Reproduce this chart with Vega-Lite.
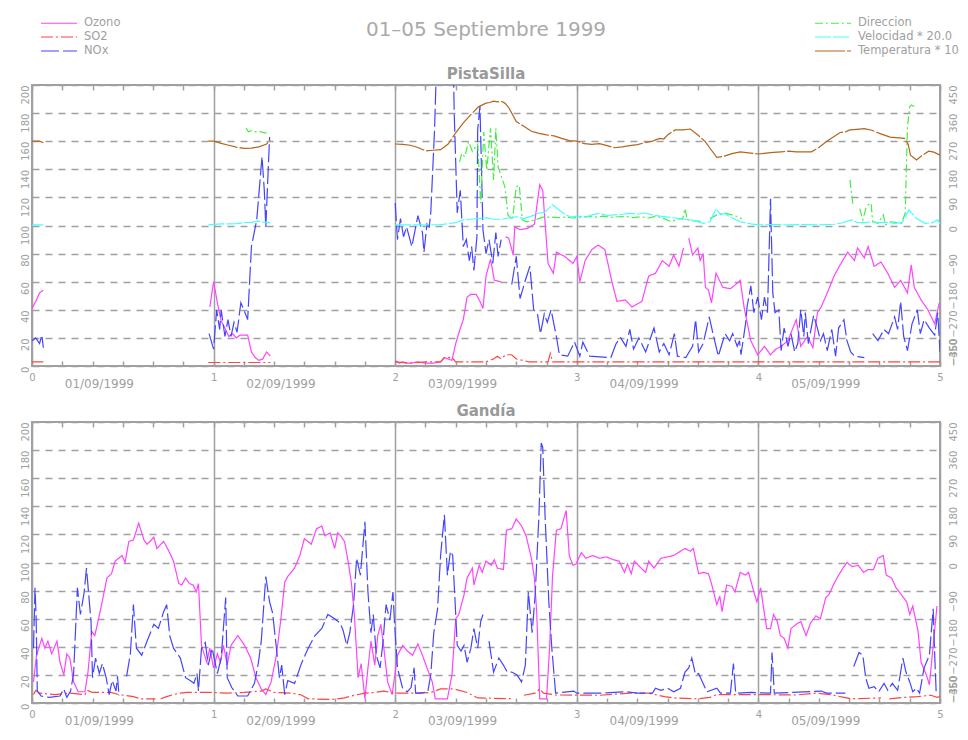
{
"$schema":"https://vega.github.io/schema/vega-lite/v6.json",
"background":"white",
"padding":{"left":18,"top":16,"right":0,"bottom":5},
"title":{"text":"01–05 Septiembre 1999","fontSize":20,"fontWeight":"normal","color":"#aaaaaa","font":"DejaVu Sans","anchor":"middle","frame":"group","offset":0,"dy":24},
"bounds":"flush",
"spacing":56,
"datasets":{
"pO":[{"h":0,"v":41},{"h":0.5,"v":46},{"h":1,"v":52},{"h":1.5,"v":54},{"h":12,"v":null},{"h":23.5,"v":42},{"h":24,"v":60},{"h":24.5,"v":45},{"h":25,"v":32},{"h":25.5,"v":27},{"h":26,"v":21},{"h":26.5,"v":23},{"h":27,"v":20},{"h":27.5,"v":22},{"h":28,"v":22},{"h":28.5,"v":22},{"h":29,"v":10},{"h":29.5,"v":6},{"h":30,"v":4},{"h":30.5,"v":5},{"h":31,"v":10},{"h":31.5,"v":7},{"h":40,"v":null},{"h":48,"v":4},{"h":48.5,"v":2},{"h":49,"v":3},{"h":49.5,"v":2},{"h":50,"v":2},{"h":51,"v":3},{"h":52,"v":2},{"h":53,"v":2},{"h":54,"v":3},{"h":54.5,"v":6},{"h":55,"v":5},{"h":55.5,"v":4},{"h":56,"v":16},{"h":56.5,"v":25},{"h":57,"v":33},{"h":57.5,"v":49},{"h":58,"v":51},{"h":58.7,"v":51},{"h":59.2,"v":46},{"h":59.6,"v":41},{"h":60,"v":64},{"h":60.6,"v":76},{"h":61.1,"v":61},{"h":62,"v":60},{"h":62.3,"v":null},{"h":62.6,"v":92},{"h":63,"v":91},{"h":63.6,"v":79},{"h":63.8,"v":99},{"h":64.5,"v":97},{"h":65.5,"v":98},{"h":66.4,"v":101},{"h":67.1,"v":129},{"h":67.5,"v":125},{"h":68.2,"v":73},{"h":68.9,"v":66},{"h":69.3,"v":81},{"h":70.4,"v":78},{"h":71.5,"v":73},{"h":72,"v":78},{"h":72.4,"v":60},{"h":73.1,"v":75},{"h":74,"v":83},{"h":74.8,"v":86},{"h":75.7,"v":83},{"h":76.6,"v":61},{"h":77.3,"v":46},{"h":78.4,"v":47},{"h":79.3,"v":42},{"h":80.6,"v":46},{"h":81.5,"v":64},{"h":82.4,"v":66},{"h":83.3,"v":75},{"h":84.2,"v":71},{"h":84.8,"v":79},{"h":85.5,"v":71},{"h":86.1,"v":84},{"h":86.4,"v":null},{"h":86.8,"v":91},{"h":87.3,"v":79},{"h":88,"v":84},{"h":88.3,"v":75},{"h":88.7,"v":80},{"h":89,"v":56},{"h":89.4,"v":54},{"h":89.8,"v":45},{"h":90.4,"v":66},{"h":91.3,"v":56},{"h":92.3,"v":55},{"h":93,"v":58},{"h":93.6,"v":61},{"h":94.1,"v":42},{"h":95,"v":18},{"h":95.9,"v":8},{"h":96.8,"v":14},{"h":97.6,"v":8},{"h":98.3,"v":12},{"h":99,"v":14},{"h":99.9,"v":18},{"h":101,"v":33},{"h":101.6,"v":14},{"h":102.5,"v":21},{"h":103.2,"v":13},{"h":103.8,"v":38},{"h":104.3,"v":42},{"h":105.1,"v":52},{"h":106,"v":64},{"h":106.7,"v":71},{"h":107.8,"v":81},{"h":108.7,"v":75},{"h":109.1,"v":84},{"h":110,"v":77},{"h":110.5,"v":85},{"h":111.3,"v":71},{"h":112.2,"v":74},{"h":113.1,"v":66},{"h":114,"v":56},{"h":114.8,"v":61},{"h":115.7,"v":52},{"h":116.2,"v":72},{"h":116.6,"v":56},{"h":117.5,"v":47},{"h":118.4,"v":40},{"h":119.3,"v":30},{"h":119.9,"v":45}],
"pS":[{"h":0,"v":3},{"h":1.5,"v":3},{"h":12,"v":null},{"h":23.3,"v":2.5},{"h":31.5,"v":2.5},{"h":40,"v":null},{"h":48,"v":3},{"h":50,"v":2},{"h":52,"v":3},{"h":54,"v":3},{"h":54.5,"v":6},{"h":55.5,"v":6},{"h":56,"v":3},{"h":60,"v":3},{"h":61,"v":5},{"h":61.5,"v":7},{"h":62,"v":5},{"h":62.6,"v":8},{"h":63.4,"v":8},{"h":64,"v":5},{"h":65.7,"v":3},{"h":68.2,"v":3},{"h":68.5,"v":9},{"h":68.8,"v":3},{"h":110,"v":3},{"h":110.2,"v":null},{"h":110.5,"v":3},{"h":120,"v":3}],
"pN":[{"h":0,"v":18},{"h":0.5,"v":20},{"h":1,"v":16},{"h":1.3,"v":22},{"h":1.5,"v":13},{"h":12,"v":null},{"h":23.4,"v":23},{"h":24,"v":12},{"h":24.4,"v":40},{"h":24.8,"v":26},{"h":25,"v":40},{"h":25.5,"v":21},{"h":25.9,"v":33},{"h":26.3,"v":21},{"h":26.7,"v":31},{"h":27.1,"v":24},{"h":27.6,"v":45},{"h":28,"v":40},{"h":28.5,"v":33},{"h":29,"v":85},{"h":29.7,"v":104},{"h":30.4,"v":149},{"h":30.7,"v":125},{"h":30.9,"v":99},{"h":31.4,"v":163},{"h":40,"v":null},{"h":48,"v":116},{"h":48.3,"v":90},{"h":48.7,"v":105},{"h":49.1,"v":92},{"h":49.5,"v":99},{"h":50.2,"v":85},{"h":51,"v":107},{"h":51.6,"v":95},{"h":51.8,"v":81},{"h":52.2,"v":101},{"h":52.5,"v":99},{"h":52.7,"v":109},{"h":53.2,"v":168},{"h":53.6,"v":240},{"h":55.6,"v":240},{"h":55.8,"v":180},{"h":56.2,"v":109},{"h":56.6,"v":125},{"h":57,"v":85},{"h":57.4,"v":90},{"h":57.8,"v":75},{"h":58.1,"v":85},{"h":58.4,"v":68},{"h":58.8,"v":92},{"h":58.9,"v":168},{"h":59.2,"v":185},{"h":59.6,"v":97},{"h":60,"v":80},{"h":60.4,"v":90},{"h":60.9,"v":73},{"h":61.3,"v":95},{"h":61.6,"v":78},{"h":62,"v":90},{"h":62.3,"v":null},{"h":63.4,"v":58},{"h":64,"v":78},{"h":64.5,"v":48},{"h":65.2,"v":61},{"h":65.8,"v":71},{"h":66.3,"v":40},{"h":66.8,"v":37},{"h":67.2,"v":23},{"h":67.7,"v":37},{"h":68.1,"v":31},{"h":68.6,"v":40},{"h":69.3,"v":21},{"h":69.7,"v":8},{"h":70.8,"v":7},{"h":71.7,"v":17},{"h":72.4,"v":7},{"h":72.8,"v":17},{"h":73.7,"v":7},{"h":76.5,"v":6},{"h":77.2,"v":16},{"h":77.8,"v":20},{"h":78.5,"v":14},{"h":79,"v":26},{"h":79.5,"v":12},{"h":80.2,"v":20},{"h":81.1,"v":10},{"h":82.2,"v":27},{"h":82.9,"v":10},{"h":83.5,"v":16},{"h":84.2,"v":8},{"h":84.9,"v":23},{"h":85.3,"v":7},{"h":86.4,"v":6},{"h":87.3,"v":14},{"h":87.7,"v":33},{"h":88.1,"v":10},{"h":88.7,"v":16},{"h":89.5,"v":35},{"h":90,"v":23},{"h":90.7,"v":7},{"h":91.6,"v":23},{"h":92.2,"v":18},{"h":92.6,"v":23},{"h":93.2,"v":14},{"h":93.5,"v":18},{"h":93.7,"v":8},{"h":94.3,"v":30},{"h":94.5,"v":42},{"h":95,"v":57},{"h":95.4,"v":38},{"h":95.9,"v":49},{"h":96.4,"v":33},{"h":96.8,"v":49},{"h":97.2,"v":38},{"h":97.6,"v":119},{"h":97.9,"v":52},{"h":98.2,"v":38},{"h":98.7,"v":40},{"h":99,"v":11},{"h":99.4,"v":27},{"h":99.9,"v":14},{"h":100.3,"v":23},{"h":100.8,"v":10},{"h":101.2,"v":16},{"h":101.6,"v":40},{"h":102,"v":21},{"h":102.2,"v":38},{"h":102.6,"v":16},{"h":103.3,"v":36},{"h":103.8,"v":27},{"h":104.2,"v":18},{"h":104.6,"v":23},{"h":105.1,"v":11},{"h":105.7,"v":26},{"h":106.2,"v":7},{"h":106.6,"v":27},{"h":107.3,"v":33},{"h":107.7,"v":18},{"h":108.2,"v":10},{"h":108.7,"v":7},{"h":110,"v":6},{"h":110.5,"v":null},{"h":111.1,"v":23},{"h":111.8,"v":18},{"h":112.6,"v":26},{"h":113.2,"v":23},{"h":114,"v":35},{"h":114.4,"v":26},{"h":114.8,"v":46},{"h":115.2,"v":21},{"h":115.7,"v":11},{"h":116.3,"v":30},{"h":117,"v":40},{"h":117.4,"v":23},{"h":117.9,"v":33},{"h":118.6,"v":27},{"h":119.3,"v":22},{"h":119.7,"v":38},{"h":120,"v":10}],
"pD":[{"h":28.3,"v":312},{"h":28.6,"v":300},{"h":29,"v":304},{"h":29.5,"v":300},{"h":30,"v":302},{"h":30.5,"v":298},{"h":31,"v":296},{"h":40,"v":null},{"h":56.5,"v":204},{"h":56.8,"v":231},{"h":57.2,"v":220},{"h":57.7,"v":269},{"h":58.2,"v":237},{"h":58.9,"v":261},{"h":59.3,"v":71},{"h":59.7,"v":300},{"h":60.1,"v":178},{"h":60.6,"v":311},{"h":61,"v":146},{"h":61.3,"v":311},{"h":61.6,"v":188},{"h":62.5,"v":124},{"h":62.9,"v":34},{"h":63.5,"v":18},{"h":64,"v":124},{"h":64.4,"v":129},{"h":64.8,"v":18},{"h":65.4,"v":12},{"h":66.5,"v":18},{"h":67.5,"v":27},{"h":68.5,"v":27},{"h":69.5,"v":25},{"h":70.5,"v":27},{"h":71.5,"v":24},{"h":72.5,"v":27},{"h":73.5,"v":29},{"h":74.5,"v":27},{"h":75.5,"v":30},{"h":76.5,"v":26},{"h":77.5,"v":28},{"h":78.5,"v":29},{"h":79.5,"v":25},{"h":80.5,"v":28},{"h":81.5,"v":24},{"h":82.5,"v":30},{"h":83.5,"v":22},{"h":84.5,"v":12},{"h":85.2,"v":20},{"h":86,"v":22},{"h":86.3,"v":54},{"h":86.6,"v":18},{"h":87.5,"v":15},{"h":88.7,"v":12},{"h":89.2,"v":null},{"h":89.6,"v":22},{"h":90.5,"v":34},{"h":91.5,"v":40},{"h":92.5,"v":34},{"h":93.3,"v":28},{"h":93.8,"v":22},{"h":94,"v":null},{"h":108.1,"v":146},{"h":108.5,"v":66},{"h":108.7,"v":null},{"h":109.4,"v":54},{"h":109.8,"v":18},{"h":110.2,"v":54},{"h":110.5,"v":66},{"h":110.9,"v":71},{"h":111.1,"v":12},{"h":111.8,"v":7},{"h":112.5,"v":34},{"h":112.8,"v":2},{"h":113.5,"v":12},{"h":114.9,"v":7},{"h":115.4,"v":39},{"h":115.7,"v":316},{"h":116,"v":380},{"h":116.2,"v":386},{"h":116.6,"v":381}],
"pV":[{"h":0,"v":2},{"h":1.5,"v":2},{"h":12,"v":null},{"h":23.3,"v":2},{"h":25,"v":5},{"h":26,"v":5},{"h":27,"v":6},{"h":28,"v":9},{"h":29,"v":10},{"h":29.8,"v":14},{"h":30.5,"v":11},{"h":31.5,"v":9},{"h":40,"v":null},{"h":48,"v":2},{"h":50,"v":2},{"h":52,"v":2},{"h":54,"v":3},{"h":55,"v":6},{"h":56,"v":9},{"h":57,"v":18},{"h":58,"v":20},{"h":59,"v":22},{"h":60,"v":25},{"h":61,"v":20},{"h":62,"v":20},{"h":63,"v":24},{"h":64,"v":28},{"h":65,"v":22},{"h":66,"v":30},{"h":67,"v":40},{"h":67.7,"v":42},{"h":68.8,"v":66},{"h":70.1,"v":41},{"h":71.2,"v":27},{"h":72,"v":30},{"h":73.3,"v":27},{"h":74,"v":34},{"h":75,"v":39},{"h":76,"v":32},{"h":77,"v":34},{"h":78,"v":36},{"h":79,"v":39},{"h":80,"v":36},{"h":81,"v":40},{"h":82,"v":34},{"h":83,"v":30},{"h":84,"v":27},{"h":85,"v":24},{"h":86,"v":20},{"h":87,"v":19},{"h":88,"v":12},{"h":88.7,"v":7},{"h":89.6,"v":12},{"h":90.4,"v":54},{"h":91,"v":34},{"h":91.5,"v":39},{"h":92.3,"v":27},{"h":93.6,"v":12},{"h":95,"v":5},{"h":96,"v":2},{"h":98,"v":3},{"h":100,"v":2},{"h":102,"v":3},{"h":104,"v":2},{"h":106,"v":4},{"h":107,"v":8},{"h":108.3,"v":18},{"h":109,"v":10},{"h":110,"v":9},{"h":111,"v":12},{"h":112,"v":9},{"h":113,"v":10},{"h":114,"v":7},{"h":115,"v":9},{"h":115.9,"v":50},{"h":116.9,"v":22},{"h":118,"v":7},{"h":119,"v":9},{"h":119.7,"v":18},{"h":120,"v":5}],
"pT":[{"h":0,"v":270},{"h":1,"v":270},{"h":1.5,"v":265},{"h":12,"v":null},{"h":23.3,"v":270},{"h":24,"v":270},{"h":25,"v":263},{"h":26,"v":257},{"h":27,"v":251},{"h":28,"v":247},{"h":29,"v":248},{"h":30,"v":252},{"h":31,"v":261},{"h":31.5,"v":274},{"h":40,"v":null},{"h":48,"v":261},{"h":49,"v":260},{"h":50,"v":257},{"h":51,"v":250},{"h":52,"v":239},{"h":53,"v":241},{"h":54,"v":243},{"h":55,"v":261},{"h":56,"v":297},{"h":57,"v":329},{"h":58,"v":355},{"h":59,"v":380},{"h":60,"v":392},{"h":60.5,"v":394},{"h":61,"v":398},{"h":61.5,"v":396},{"h":62,"v":398},{"h":62.5,"v":392},{"h":63,"v":378},{"h":64,"v":333},{"h":65,"v":318},{"h":66,"v":302},{"h":67,"v":295},{"h":68,"v":290},{"h":69,"v":287},{"h":70,"v":279},{"h":71,"v":272},{"h":72,"v":270},{"h":73,"v":262},{"h":74,"v":260},{"h":75,"v":262},{"h":76,"v":256},{"h":77,"v":249},{"h":78,"v":252},{"h":79,"v":256},{"h":80,"v":259},{"h":81,"v":265},{"h":82,"v":270},{"h":82.5,"v":275},{"h":83,"v":279},{"h":83.5,"v":277},{"h":84,"v":290},{"h":85,"v":306},{"h":86,"v":306},{"h":87,"v":309},{"h":88,"v":290},{"h":89,"v":268},{"h":89.8,"v":241},{"h":90.5,"v":218},{"h":91.5,"v":222},{"h":92.5,"v":230},{"h":93.6,"v":236},{"h":95,"v":232},{"h":96,"v":229},{"h":97,"v":232},{"h":98,"v":234},{"h":99,"v":236},{"h":100,"v":238},{"h":101,"v":236},{"h":102,"v":236},{"h":103,"v":236},{"h":104,"v":250},{"h":105,"v":269},{"h":106,"v":285},{"h":106.8,"v":298},{"h":107.5,"v":300},{"h":108.1,"v":306},{"h":109,"v":308},{"h":110,"v":310},{"h":111,"v":305},{"h":112,"v":295},{"h":113.4,"v":283},{"h":115.3,"v":279},{"h":115.8,"v":260},{"h":116.1,"v":225},{"h":116.9,"v":210},{"h":117.5,"v":222},{"h":118.5,"v":238},{"h":119.2,"v":235},{"h":120,"v":225}],
"gO":[{"h":0.2,"v":15},{"h":0.6,"v":34},{"h":1.3,"v":46},{"h":1.7,"v":39},{"h":2.1,"v":44},{"h":2.6,"v":35},{"h":3.3,"v":44},{"h":3.7,"v":29},{"h":4.2,"v":20},{"h":4.6,"v":35},{"h":5,"v":32},{"h":5.5,"v":15},{"h":6.1,"v":8},{"h":7,"v":8},{"h":7.4,"v":22},{"h":7.9,"v":51},{"h":8.3,"v":48},{"h":8.8,"v":60},{"h":9.2,"v":70},{"h":9.9,"v":89},{"h":10.5,"v":92},{"h":11,"v":101},{"h":11.9,"v":105},{"h":12.3,"v":100},{"h":12.8,"v":115},{"h":13.4,"v":116},{"h":14.1,"v":128},{"h":14.8,"v":116},{"h":15.2,"v":113},{"h":15.6,"v":115},{"h":16.1,"v":118},{"h":16.5,"v":110},{"h":17.4,"v":115},{"h":18.1,"v":108},{"h":18.7,"v":101},{"h":19.4,"v":85},{"h":19.8,"v":84},{"h":20.3,"v":89},{"h":20.8,"v":85},{"h":21.3,"v":84},{"h":21.7,"v":79},{"h":22,"v":85},{"h":22.4,"v":41},{"h":23.1,"v":29},{"h":23.5,"v":39},{"h":24,"v":25},{"h":24.5,"v":35},{"h":24.9,"v":29},{"h":25.3,"v":41},{"h":25.8,"v":27},{"h":26.3,"v":41},{"h":27.2,"v":48},{"h":28.1,"v":41},{"h":28.9,"v":32},{"h":29.6,"v":18},{"h":30.3,"v":10},{"h":30.9,"v":6},{"h":31.6,"v":15},{"h":32.3,"v":34},{"h":32.9,"v":60},{"h":33.4,"v":86},{"h":33.8,"v":90},{"h":34.7,"v":96},{"h":35.4,"v":105},{"h":36,"v":117},{"h":36.9,"v":113},{"h":37.6,"v":124},{"h":38.3,"v":126},{"h":38.7,"v":119},{"h":39.4,"v":121},{"h":40,"v":110},{"h":40.4,"v":121},{"h":40.8,"v":119},{"h":41.3,"v":115},{"h":41.8,"v":100},{"h":42.2,"v":86},{"h":42.6,"v":63},{"h":43.1,"v":18},{"h":43.5,"v":28},{"h":44,"v":3},{"h":44.4,"v":25},{"h":44.8,"v":44},{"h":45.3,"v":27},{"h":45.7,"v":48},{"h":46.1,"v":56},{"h":46.5,"v":39},{"h":47,"v":15},{"h":47.6,"v":6},{"h":48.3,"v":34},{"h":49,"v":41},{"h":49.6,"v":37},{"h":50.3,"v":34},{"h":51,"v":42},{"h":51.6,"v":34},{"h":52.2,"v":25},{"h":52.9,"v":15},{"h":53.3,"v":3},{"h":54.9,"v":3},{"h":55.5,"v":20},{"h":56,"v":60},{"h":56.4,"v":63},{"h":57.1,"v":77},{"h":57.5,"v":89},{"h":58.2,"v":96},{"h":58.4,"v":84},{"h":59.1,"v":98},{"h":59.5,"v":93},{"h":60,"v":101},{"h":60.7,"v":98},{"h":61.1,"v":102},{"h":61.5,"v":96},{"h":62.3,"v":95},{"h":62.7,"v":123},{"h":63.4,"v":124},{"h":64,"v":131},{"h":64.7,"v":126},{"h":65.3,"v":119},{"h":66,"v":103},{"h":66.4,"v":89},{"h":66.7,"v":65},{"h":67.1,"v":3},{"h":68,"v":3},{"h":68.4,"v":39},{"h":68.8,"v":91},{"h":69.3,"v":123},{"h":69.9,"v":124},{"h":70.6,"v":137},{"h":71,"v":105},{"h":71.5,"v":98},{"h":71.9,"v":99},{"h":72.6,"v":107},{"h":73.2,"v":103},{"h":74.1,"v":105},{"h":75,"v":103},{"h":75.9,"v":104},{"h":76.8,"v":102},{"h":77.6,"v":101},{"h":78.3,"v":93},{"h":78.7,"v":99},{"h":79.2,"v":92},{"h":79.6,"v":101},{"h":80.5,"v":96},{"h":81.1,"v":93},{"h":81.5,"v":101},{"h":82.2,"v":96},{"h":83.1,"v":103},{"h":84,"v":104},{"h":84.8,"v":105},{"h":85.7,"v":108},{"h":86.3,"v":110},{"h":87,"v":108},{"h":87.4,"v":110},{"h":88.1,"v":92},{"h":88.7,"v":93},{"h":89.4,"v":92},{"h":89.8,"v":85},{"h":90.5,"v":70},{"h":90.9,"v":76},{"h":91.2,"v":65},{"h":91.8,"v":84},{"h":92.5,"v":83},{"h":92.9,"v":79},{"h":93.6,"v":93},{"h":94.3,"v":91},{"h":94.7,"v":93},{"h":95.4,"v":79},{"h":95.8,"v":72},{"h":96.3,"v":82},{"h":96.7,"v":67},{"h":97.1,"v":53},{"h":97.6,"v":53},{"h":98,"v":63},{"h":98.5,"v":58},{"h":98.9,"v":48},{"h":99.4,"v":46},{"h":99.9,"v":39},{"h":100.3,"v":53},{"h":101,"v":56},{"h":101.6,"v":58},{"h":102.3,"v":48},{"h":102.9,"v":57},{"h":103.6,"v":62},{"h":104.2,"v":60},{"h":104.9,"v":75},{"h":105.3,"v":77},{"h":106,"v":85},{"h":106.6,"v":91},{"h":107.3,"v":97},{"h":107.7,"v":100},{"h":108.4,"v":97},{"h":109.2,"v":98},{"h":109.9,"v":93},{"h":110.5,"v":95},{"h":111.2,"v":95},{"h":111.8,"v":103},{"h":112.5,"v":105},{"h":112.9,"v":91},{"h":113.6,"v":89},{"h":114.2,"v":82},{"h":114.9,"v":77},{"h":115.6,"v":72},{"h":116,"v":63},{"h":116.4,"v":69},{"h":117.1,"v":51},{"h":117.5,"v":29},{"h":118.2,"v":20},{"h":118.6,"v":13},{"h":119.1,"v":41},{"h":119.6,"v":69}],
"gS":[{"h":0.2,"v":6},{"h":0.5,"v":9},{"h":1,"v":7},{"h":3,"v":6},{"h":5,"v":7},{"h":7,"v":6},{"h":7.3,"v":9},{"h":8,"v":7.5},{"h":10.4,"v":7.5},{"h":11.5,"v":6},{"h":13.4,"v":4.5},{"h":14.3,"v":3},{"h":16.3,"v":3},{"h":16.6,"v":null},{"h":17,"v":3},{"h":17.8,"v":4.5},{"h":18.7,"v":6},{"h":19.6,"v":7},{"h":20.5,"v":7.5},{"h":24,"v":7.5},{"h":25.8,"v":7},{"h":28,"v":7.5},{"h":30.3,"v":8.5},{"h":30.9,"v":10},{"h":32,"v":7.5},{"h":34.3,"v":7},{"h":35.6,"v":5.7},{"h":36.5,"v":3},{"h":39.6,"v":2.5},{"h":41.3,"v":3.6},{"h":42.6,"v":5.5},{"h":44,"v":7},{"h":45.3,"v":7.5},{"h":46.5,"v":8.5},{"h":47.9,"v":7},{"h":50.5,"v":7},{"h":52.7,"v":7.5},{"h":54,"v":10},{"h":55.8,"v":10},{"h":57.5,"v":7.5},{"h":58.9,"v":3.6},{"h":63.7,"v":3},{"h":64,"v":null},{"h":65,"v":5.5},{"h":66.5,"v":7},{"h":67.1,"v":10},{"h":67.6,"v":7},{"h":69.2,"v":5.7},{"h":75,"v":5.5},{"h":79,"v":7},{"h":81.5,"v":7},{"h":83.6,"v":4.5},{"h":84.8,"v":3.6},{"h":87.9,"v":3},{"h":89.6,"v":4},{"h":90.5,"v":6},{"h":95.8,"v":6},{"h":101,"v":5.7},{"h":103.6,"v":7},{"h":105.5,"v":6},{"h":107.3,"v":4},{"h":108.2,"v":3},{"h":112.2,"v":3.6},{"h":112.5,"v":null},{"h":113.3,"v":3},{"h":115.3,"v":4},{"h":117,"v":4.5},{"h":118.8,"v":5.5},{"h":119.6,"v":4},{"h":120,"v":4.5}],
"gN":[{"h":0.2,"v":39},{"h":0.4,"v":82},{"h":0.55,"v":60},{"h":0.7,"v":8.5},{"h":1.2,"v":5},{"h":2.3,"v":4},{"h":3.7,"v":5},{"h":4.2,"v":10},{"h":4.6,"v":4},{"h":5.1,"v":8.5},{"h":5.5,"v":21},{"h":6,"v":82},{"h":6.4,"v":63},{"h":6.9,"v":79},{"h":7.2,"v":96},{"h":7.8,"v":58},{"h":8,"v":18},{"h":8.4,"v":32},{"h":8.9,"v":21},{"h":9.3,"v":28},{"h":9.8,"v":18},{"h":10.2,"v":6},{"h":10.6,"v":16},{"h":11.1,"v":8.5},{"h":11.3,"v":19},{"h":11.5,"v":5},{"h":12,"v":null},{"h":12.5,"v":19},{"h":13,"v":35},{"h":13.4,"v":70},{"h":13.8,"v":39},{"h":14.5,"v":34},{"h":15.2,"v":44},{"h":16.1,"v":56},{"h":16.7,"v":53},{"h":17.4,"v":65},{"h":17.8,"v":70},{"h":18.2,"v":48},{"h":18.7,"v":39},{"h":19.6,"v":32},{"h":20.3,"v":18},{"h":20.9,"v":16},{"h":21.4,"v":14},{"h":21.8,"v":21},{"h":22,"v":8.5},{"h":22.4,"v":39},{"h":22.9,"v":43},{"h":23.3,"v":27},{"h":23.8,"v":39},{"h":24.5,"v":21},{"h":25,"v":32},{"h":25.6,"v":75},{"h":25.8,"v":18},{"h":26.4,"v":11},{"h":27.2,"v":5},{"h":28.5,"v":5},{"h":29.4,"v":14},{"h":29.9,"v":28},{"h":30.3,"v":44},{"h":30.9,"v":90},{"h":31.4,"v":72},{"h":31.8,"v":64},{"h":32.3,"v":39},{"h":32.7,"v":18},{"h":33,"v":27},{"h":33.4,"v":6},{"h":33.8,"v":16},{"h":34.7,"v":14},{"h":35.6,"v":28},{"h":36.5,"v":39},{"h":37.4,"v":48},{"h":38.3,"v":53},{"h":39.1,"v":63},{"h":40,"v":60},{"h":40.7,"v":57},{"h":41.1,"v":52},{"h":41.6,"v":41},{"h":42,"v":50},{"h":42.5,"v":70},{"h":42.9,"v":103},{"h":43.4,"v":91},{"h":44,"v":129},{"h":44.4,"v":79},{"h":44.8,"v":50},{"h":45.1,"v":63},{"h":45.5,"v":34},{"h":46,"v":25},{"h":46.4,"v":44},{"h":46.6,"v":58},{"h":46.8,"v":70},{"h":47.3,"v":59},{"h":47.7,"v":79},{"h":47.9,"v":58},{"h":48.3,"v":25},{"h":49,"v":10},{"h":49.6,"v":8},{"h":50.1,"v":11},{"h":50.5,"v":25},{"h":50.7,"v":7},{"h":51.4,"v":7},{"h":52.3,"v":8},{"h":52.7,"v":20},{"h":53.1,"v":50},{"h":53.6,"v":67},{"h":54,"v":105},{"h":54.5,"v":134},{"h":54.9,"v":91},{"h":55.3,"v":108},{"h":55.6,"v":105},{"h":56,"v":63},{"h":56.2,"v":41},{"h":56.7,"v":37},{"h":57.1,"v":41},{"h":57.5,"v":29},{"h":58,"v":39},{"h":58.4,"v":53},{"h":58.9,"v":39},{"h":59.3,"v":58},{"h":59.6,"v":63},{"h":60,"v":null},{"h":60.4,"v":44},{"h":61,"v":22},{"h":61.7,"v":32},{"h":62.3,"v":27},{"h":62.8,"v":22},{"h":63.4,"v":22},{"h":64.1,"v":20},{"h":64.7,"v":15},{"h":65.2,"v":27},{"h":65.6,"v":79},{"h":66.1,"v":50},{"h":66.5,"v":77},{"h":67,"v":134},{"h":67.3,"v":185},{"h":67.5,"v":182},{"h":67.8,"v":134},{"h":68.3,"v":72},{"h":68.7,"v":39},{"h":69.2,"v":7},{"h":71.6,"v":8.5},{"h":72,"v":7},{"h":75,"v":7},{"h":78.6,"v":8},{"h":80,"v":7},{"h":82,"v":7},{"h":82.4,"v":10.5},{"h":83.1,"v":9},{"h":84,"v":10.5},{"h":84.8,"v":8},{"h":85.7,"v":10.5},{"h":86.3,"v":22},{"h":86.8,"v":25},{"h":87.2,"v":32},{"h":87.7,"v":20},{"h":88.1,"v":21},{"h":88.6,"v":15},{"h":89.2,"v":8},{"h":90.5,"v":10.5},{"h":91,"v":7},{"h":92.3,"v":7},{"h":92.7,"v":28},{"h":93,"v":7},{"h":95,"v":7.5},{"h":97.6,"v":7},{"h":97.8,"v":36},{"h":98.1,"v":7},{"h":104.3,"v":8.5},{"h":105,"v":7},{"h":107.5,"v":7},{"h":108,"v":null},{"h":108.6,"v":26},{"h":109.3,"v":36},{"h":109.8,"v":34},{"h":110.2,"v":17.5},{"h":110.6,"v":10.5},{"h":111.3,"v":11.6},{"h":111.9,"v":8},{"h":112.6,"v":14},{"h":113.1,"v":9},{"h":113.7,"v":14},{"h":114.4,"v":9},{"h":115.1,"v":32},{"h":115.5,"v":22},{"h":116,"v":15},{"h":116.4,"v":8},{"h":116.9,"v":10.5},{"h":117.3,"v":7},{"h":117.9,"v":25},{"h":118.6,"v":34},{"h":119.1,"v":67},{"h":119.3,"v":34},{"h":119.5,"v":7}],
"gD":[{"h":0,"v":null}]
},
"vconcat":[
{
"title":{"text":"PistaSilla","dy":3},
"width":908,"height":281,
"layer":[
{"layer":[
{"data":{"name":"pO"},"mark":{"type":"line","clip":true},"encoding":{
"x":{"field":"h","type":"quantitative","scale":{"domain":[0,120]},"axis":{"orient":"bottom","title":null,"values":[0,4,8,12,16,20,24,28,32,36,40,44,48,52,56,60,64,68,72,76,80,84,88,92,96,100,104,108,112,116,120],"labelExpr":"datum.value % 24 == 0 ? '' + (datum.value/24) : ''","labelFontSize":10,"labelPadding":11,"labelFlush":false,"labelOverlap":false,"ticks":true,"tickSize":-5,"tickColor":"#a0a0a0","tickWidth":1.5,"grid":true,"gridColor":"#a0a0a0","gridWidth":1.5,"gridOpacity":{"condition":{"test":"datum.value % 24 == 0","value":1},"value":0}}},
"y":{"field":"v","type":"quantitative","scale":{"domain":[0,200]},"axis":{"orient":"left","title":null,"values":[0,20,40,60,80,100,120,140,160,180,200],"labelAngle":-90,"labelAlign":"right","labelBaseline":"alphabetic","labelPadding":4,"labelFontSize":10,"ticks":false,"grid":true,"gridDash":[7,6],"gridColor":"#a0a0a0","gridWidth":1.5,"labelFlush":false,"labelOverlap":false}},
"color":{"datum":"Ozono","type":"nominal","scale":{"domain":["Ozono","SO2","NOx","Direccion","Velocidad * 20.0","Temperatura * 10"],"range":["#ff44ff","#ff4444","#4444ff","#44ee44","#44ffff","#b4641e"]},"legend":{"orient":"none","legendX":20,"legendY":-69,"columns":2,"columnPadding":691,"title":null,"symbolType":"M-3,0H3","symbolSize":144,"symbolStrokeWidth":1.3,"labelFontSize":11.5,"labelColor":"#a0a0a0","labelFont":"DejaVu Sans","labelOffset":18,"rowPadding":1,"padding":0}},
"strokeDash":{"datum":"Ozono","type":"nominal","scale":{"domain":["Ozono","SO2","NOx","Direccion","Velocidad * 20.0","Temperatura * 10"],"range":[[1,0],[12,3,2,3],[18,4],[8,3,2,3],[16,2],[30,2]]},"legend":{"orient":"none","legendX":20,"legendY":-69,"columns":2,"columnPadding":691,"title":null,"symbolType":"M-3,0H3","symbolSize":144,"symbolStrokeWidth":1.3,"labelFontSize":11.5,"labelColor":"#a0a0a0","labelFont":"DejaVu Sans","labelOffset":18,"rowPadding":1,"padding":0}}}},
{"data":{"name":"pS"},"mark":{"type":"line","clip":true},"encoding":{
"x":{"field":"h","type":"quantitative","scale":{"domain":[0,120]},"axis":{"orient":"bottom","title":null,"values":[0,4,8,12,16,20,24,28,32,36,40,44,48,52,56,60,64,68,72,76,80,84,88,92,96,100,104,108,112,116,120],"labelExpr":"datum.value % 24 == 0 ? '' + (datum.value/24) : ''","labelFontSize":10,"labelPadding":11,"labelFlush":false,"labelOverlap":false,"ticks":true,"tickSize":-5,"tickColor":"#a0a0a0","tickWidth":1.5,"grid":true,"gridColor":"#a0a0a0","gridWidth":1.5,"gridOpacity":{"condition":{"test":"datum.value % 24 == 0","value":1},"value":0}}},
"y":{"field":"v","type":"quantitative","scale":{"domain":[0,200]},"axis":{"orient":"left","title":null,"values":[0,20,40,60,80,100,120,140,160,180,200],"labelAngle":-90,"labelAlign":"right","labelBaseline":"alphabetic","labelPadding":4,"labelFontSize":10,"ticks":false,"grid":true,"gridDash":[7,6],"gridColor":"#a0a0a0","gridWidth":1.5,"labelFlush":false,"labelOverlap":false}},
"color":{"datum":"SO2","type":"nominal"},"strokeDash":{"datum":"SO2","type":"nominal"}}},
{"data":{"name":"pN"},"mark":{"type":"line","clip":true},"encoding":{
"x":{"field":"h","type":"quantitative","scale":{"domain":[0,120]},"axis":{"orient":"bottom","title":null,"values":[0,4,8,12,16,20,24,28,32,36,40,44,48,52,56,60,64,68,72,76,80,84,88,92,96,100,104,108,112,116,120],"labelExpr":"datum.value % 24 == 0 ? '' + (datum.value/24) : ''","labelFontSize":10,"labelPadding":11,"labelFlush":false,"labelOverlap":false,"ticks":true,"tickSize":-5,"tickColor":"#a0a0a0","tickWidth":1.5,"grid":true,"gridColor":"#a0a0a0","gridWidth":1.5,"gridOpacity":{"condition":{"test":"datum.value % 24 == 0","value":1},"value":0}}},
"y":{"field":"v","type":"quantitative","scale":{"domain":[0,200]},"axis":{"orient":"left","title":null,"values":[0,20,40,60,80,100,120,140,160,180,200],"labelAngle":-90,"labelAlign":"right","labelBaseline":"alphabetic","labelPadding":4,"labelFontSize":10,"ticks":false,"grid":true,"gridDash":[7,6],"gridColor":"#a0a0a0","gridWidth":1.5,"labelFlush":false,"labelOverlap":false}},
"color":{"datum":"NOx","type":"nominal"},"strokeDash":{"datum":"NOx","type":"nominal"}}}
]},
{"layer":[
{"data":{"name":"pD"},"mark":{"type":"line","clip":true},"encoding":{
"x":{"field":"h","type":"quantitative","scale":{"domain":[0,120]},"axis":{"orient":"bottom","title":null,"values":[4,28,52,76,100],"labelExpr":"'0' + (floor(datum.value/24)+1) + '/09/1999'","labelFontSize":12,"labelPadding":12,"labelAlign":"left","labelOffset":2,"labelFlush":false,"labelOverlap":false,"ticks":false,"grid":false}},
"y":{"field":"v","type":"quantitative","scale":{"domain":[-450,450]},"axis":{"orient":"right","title":null,"values":[-450,-360,-270,-180,-90,0,90,180,270,360,450],"labelAngle":-90,"labelAlign":{"condition":{"test":"datum.value == -450","value":"left"},"value":"right"},"labelBaseline":"top","labelPadding":8,"labelFontSize":10,"ticks":false,"grid":false,"labelFlush":false,"labelOverlap":false}},
"color":{"datum":"Direccion","type":"nominal"},"strokeDash":{"datum":"Direccion","type":"nominal"}}},
{"data":{"name":"pV"},"mark":{"type":"line","clip":true},"encoding":{
"x":{"field":"h","type":"quantitative","scale":{"domain":[0,120]},"axis":{"orient":"bottom","title":null,"values":[4,28,52,76,100],"labelExpr":"'0' + (floor(datum.value/24)+1) + '/09/1999'","labelFontSize":12,"labelPadding":12,"labelAlign":"left","labelOffset":2,"labelFlush":false,"labelOverlap":false,"ticks":false,"grid":false}},
"y":{"field":"v","type":"quantitative","scale":{"domain":[-450,450]},"axis":{"orient":"right","title":null,"values":[-450,-360,-270,-180,-90,0,90,180,270,360,450],"labelAngle":-90,"labelAlign":{"condition":{"test":"datum.value == -450","value":"left"},"value":"right"},"labelBaseline":"top","labelPadding":8,"labelFontSize":10,"ticks":false,"grid":false,"labelFlush":false,"labelOverlap":false}},
"color":{"datum":"Velocidad * 20.0","type":"nominal"},"strokeDash":{"datum":"Velocidad * 20.0","type":"nominal"}}},
{"data":{"name":"pT"},"mark":{"type":"line","clip":true},"encoding":{
"x":{"field":"h","type":"quantitative","scale":{"domain":[0,120]},"axis":{"orient":"bottom","title":null,"values":[4,28,52,76,100],"labelExpr":"'0' + (floor(datum.value/24)+1) + '/09/1999'","labelFontSize":12,"labelPadding":12,"labelAlign":"left","labelOffset":2,"labelFlush":false,"labelOverlap":false,"ticks":false,"grid":false}},
"y":{"field":"v","type":"quantitative","scale":{"domain":[-450,450]},"axis":{"orient":"right","title":null,"values":[-450,-360,-270,-180,-90,0,90,180,270,360,450],"labelAngle":-90,"labelAlign":{"condition":{"test":"datum.value == -450","value":"left"},"value":"right"},"labelBaseline":"top","labelPadding":8,"labelFontSize":10,"ticks":false,"grid":false,"labelFlush":false,"labelOverlap":false}},
"color":{"datum":"Temperatura * 10","type":"nominal"},"strokeDash":{"datum":"Temperatura * 10","type":"nominal"}}}
]},
{"data":{"name":"gD"},"mark":{"type":"line","clip":true},"encoding":{
"x":{"field":"h","type":"quantitative","scale":{"domain":[0,120]},"axis":{"orient":"top","title":null,"values":[0,4,8,12,16,20,24,28,32,36,40,44,48,52,56,60,64,68,72,76,80,84,88,92,96,100,104,108,112,116,120],"labels":false,"ticks":true,"tickSize":-5,"tickColor":"#a0a0a0","tickWidth":1.5,"grid":false}},
"y":{"field":"v","type":"quantitative","scale":{"domain":[0,1]},"axis":null}}}
],
"resolve":{"scale":{"y":"independent"},"axis":{"y":"independent","x":"independent"}}
},
{
"title":{"text":"Gandía","dy":3},
"width":908,"height":281,
"layer":[
{"layer":[
{"data":{"name":"gO"},"mark":{"type":"line","clip":true},"encoding":{
"x":{"field":"h","type":"quantitative","scale":{"domain":[0,120]},"axis":{"orient":"bottom","title":null,"values":[0,4,8,12,16,20,24,28,32,36,40,44,48,52,56,60,64,68,72,76,80,84,88,92,96,100,104,108,112,116,120],"labelExpr":"datum.value % 24 == 0 ? '' + (datum.value/24) : ''","labelFontSize":10,"labelPadding":11,"labelFlush":false,"labelOverlap":false,"ticks":true,"tickSize":-5,"tickColor":"#a0a0a0","tickWidth":1.5,"grid":true,"gridColor":"#a0a0a0","gridWidth":1.5,"gridOpacity":{"condition":{"test":"datum.value % 24 == 0","value":1},"value":0}}},
"y":{"field":"v","type":"quantitative","scale":{"domain":[0,200]},"axis":{"orient":"left","title":null,"values":[0,20,40,60,80,100,120,140,160,180,200],"labelAngle":-90,"labelAlign":"right","labelBaseline":"alphabetic","labelPadding":4,"labelFontSize":10,"ticks":false,"grid":true,"gridDash":[7,6],"gridColor":"#a0a0a0","gridWidth":1.5,"labelFlush":false,"labelOverlap":false}},
"color":{"datum":"Ozono","type":"nominal"},"strokeDash":{"datum":"Ozono","type":"nominal"}}},
{"data":{"name":"gS"},"mark":{"type":"line","clip":true},"encoding":{
"x":{"field":"h","type":"quantitative","scale":{"domain":[0,120]},"axis":{"orient":"bottom","title":null,"values":[0,4,8,12,16,20,24,28,32,36,40,44,48,52,56,60,64,68,72,76,80,84,88,92,96,100,104,108,112,116,120],"labelExpr":"datum.value % 24 == 0 ? '' + (datum.value/24) : ''","labelFontSize":10,"labelPadding":11,"labelFlush":false,"labelOverlap":false,"ticks":true,"tickSize":-5,"tickColor":"#a0a0a0","tickWidth":1.5,"grid":true,"gridColor":"#a0a0a0","gridWidth":1.5,"gridOpacity":{"condition":{"test":"datum.value % 24 == 0","value":1},"value":0}}},
"y":{"field":"v","type":"quantitative","scale":{"domain":[0,200]},"axis":{"orient":"left","title":null,"values":[0,20,40,60,80,100,120,140,160,180,200],"labelAngle":-90,"labelAlign":"right","labelBaseline":"alphabetic","labelPadding":4,"labelFontSize":10,"ticks":false,"grid":true,"gridDash":[7,6],"gridColor":"#a0a0a0","gridWidth":1.5,"labelFlush":false,"labelOverlap":false}},
"color":{"datum":"SO2","type":"nominal"},"strokeDash":{"datum":"SO2","type":"nominal"}}},
{"data":{"name":"gN"},"mark":{"type":"line","clip":true},"encoding":{
"x":{"field":"h","type":"quantitative","scale":{"domain":[0,120]},"axis":{"orient":"bottom","title":null,"values":[0,4,8,12,16,20,24,28,32,36,40,44,48,52,56,60,64,68,72,76,80,84,88,92,96,100,104,108,112,116,120],"labelExpr":"datum.value % 24 == 0 ? '' + (datum.value/24) : ''","labelFontSize":10,"labelPadding":11,"labelFlush":false,"labelOverlap":false,"ticks":true,"tickSize":-5,"tickColor":"#a0a0a0","tickWidth":1.5,"grid":true,"gridColor":"#a0a0a0","gridWidth":1.5,"gridOpacity":{"condition":{"test":"datum.value % 24 == 0","value":1},"value":0}}},
"y":{"field":"v","type":"quantitative","scale":{"domain":[0,200]},"axis":{"orient":"left","title":null,"values":[0,20,40,60,80,100,120,140,160,180,200],"labelAngle":-90,"labelAlign":"right","labelBaseline":"alphabetic","labelPadding":4,"labelFontSize":10,"ticks":false,"grid":true,"gridDash":[7,6],"gridColor":"#a0a0a0","gridWidth":1.5,"labelFlush":false,"labelOverlap":false}},
"color":{"datum":"NOx","type":"nominal"},"strokeDash":{"datum":"NOx","type":"nominal"}}}
]},
{"data":{"name":"gD"},"mark":{"type":"line","clip":true},"encoding":{
"x":{"field":"h","type":"quantitative","scale":{"domain":[0,120]},"axis":{"orient":"bottom","title":null,"values":[4,28,52,76,100],"labelExpr":"'0' + (floor(datum.value/24)+1) + '/09/1999'","labelFontSize":12,"labelPadding":12,"labelAlign":"left","labelOffset":2,"labelFlush":false,"labelOverlap":false,"ticks":false,"grid":false}},
"y":{"field":"v","type":"quantitative","scale":{"domain":[-450,450]},"axis":{"orient":"right","title":null,"values":[-450,-360,-270,-180,-90,0,90,180,270,360,450],"labelAngle":-90,"labelAlign":{"condition":{"test":"datum.value == -450","value":"left"},"value":"right"},"labelBaseline":"top","labelPadding":8,"labelFontSize":10,"ticks":false,"grid":false,"labelFlush":false,"labelOverlap":false}},
"color":{"datum":"Direccion","type":"nominal"},"strokeDash":{"datum":"Direccion","type":"nominal"}}},
{"data":{"name":"gD"},"mark":{"type":"line","clip":true},"encoding":{
"x":{"field":"h","type":"quantitative","scale":{"domain":[0,120]},"axis":{"orient":"top","title":null,"values":[0,4,8,12,16,20,24,28,32,36,40,44,48,52,56,60,64,68,72,76,80,84,88,92,96,100,104,108,112,116,120],"labels":false,"ticks":true,"tickSize":-5,"tickColor":"#a0a0a0","tickWidth":1.5,"grid":false}},
"y":{"field":"v","type":"quantitative","scale":{"domain":[0,1]},"axis":null}}}
],
"resolve":{"scale":{"y":"independent"},"axis":{"y":"independent","x":"independent"}}
}
],
"resolve":{"scale":{"color":"shared","strokeDash":"shared"}},
"config":{
"view":{"stroke":"#a0a0a0","strokeWidth":2},
"mark":{"invalid":"break-paths-filter-domains"},
"line":{"strokeWidth":1.2},
"axis":{"labelFont":"DejaVu Sans","labelColor":"#a0a0a0","domain":false,"labelOverlap":false,"labelFlush":false},
"title":{"font":"DejaVu Sans","color":"#999999","fontSize":15,"fontWeight":"bold","offset":5},
"legend":{"labelFont":"DejaVu Sans"}
}
}
